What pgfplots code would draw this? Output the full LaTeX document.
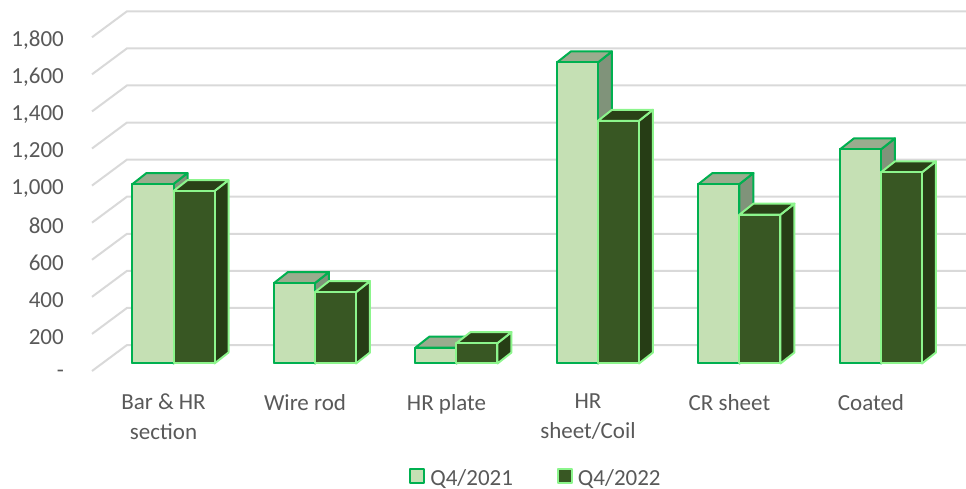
\documentclass[border=0pt]{standalone}
\usepackage{pgfplots}
\usepackage{pgfplotstable}
\usepackage{fontspec}
\setmainfont{Carlito}
\pgfplotsset{compat=1.18}
\definecolor{txt}{HTML}{595959}
\definecolor{gridc}{HTML}{D9D9D9}
\definecolor{lightf}{HTML}{C5E0B4}
\definecolor{lighte}{HTML}{00B050}
\definecolor{lightt}{HTML}{9AAC8E}
\definecolor{lights}{HTML}{80937A}
\definecolor{darkf}{HTML}{385723}
\definecolor{darke}{HTML}{8CF58C}
\definecolor{darkt}{HTML}{2A4117}
\definecolor{darks}{HTML}{263D15}
\pgfplotstableread{
x y
0 968
1 434
2 86
3 1624
4 968
5 1155
}\seriesA
\pgfplotstableread{
x y
0 930
1 385
2 110
3 1309
4 803
5 1031
}\seriesB
\pgfdeclareplotmark{nil}{}
\pgfplotsset{
  cuboid/.style n args={5}{
    scatter, only marks, mark=nil, forget plot,
    xshift=#1, yshift=7.5pt,
    visualization depends on={rawy \as \rawv},
    scatter/@pre marker code/.code={%
      \pgfmathsetmacro\hh{\rawv*0.1854}%
      \pgfmathsetmacro\hb{11-\hh}%
      \pgfmathsetmacro\hc{-\hh}%
      \begin{scope}[line width=2pt, line join=round]
      \filldraw[fill=#2, draw=#4] (0pt,0pt)--(14pt,11pt)--(14pt,\hb pt)--(0pt,\hc pt)--cycle;
      \filldraw[fill=#3, draw=#4] (0pt,0pt)--(-41pt,0pt)--(-27pt,11pt)--(14pt,11pt)--cycle;
      \filldraw[fill=#5, draw=#4] (0pt,0pt)--(-41pt,0pt)--(-41pt,\hc pt)--(0pt,\hc pt)--cycle;
      \end{scope}%
    },
    scatter/@post marker code/.code={},
  },
  frontbar/.style n args={3}{
    ybar, bar width=41pt, bar shift=#1, yshift=7.5pt,
    fill=#2, draw=#3, line width=2pt, line join=round,
    legend image code/.code={\draw[fill=#2, draw=#3, line width=2pt] (0pt,-13pt) rectangle (14pt,1pt); \path (17pt,0pt);},
  },
}
\begin{document}
\begin{tikzpicture}
\path[use as bounding box] (-92pt,-118pt) rectangle (874pt,371pt);
\begin{axis}[
  scale only axis, width=874pt, height=371pt,
  at={(0pt,0pt)}, anchor=south west,
  xmin=-0.576, xmax=5.601, ymin=0, ymax=2001,
  clip=false,
  axis line style={draw=none},
  major tick length=0pt,
  ytick={0,200,400,600,800,1000,1200,1400,1600,1800},
  yticklabels={-,200,400,600,800,{1,000},{1,200},{1,400},{1,600},{1,800}},
  xtick={0,1,2,3,4,5},
  xticklabels={{Bar \& HR\\section},{Wire rod},{HR plate},{HR\\sheet/Coil},{CR sheet},{Coated}},
  tick label style={text=txt},
  yticklabel style={font=\fontsize{23}{26}\selectfont, inner sep=0pt, anchor=east, xshift=-28pt, yshift=-3pt},
  xticklabel style={font=\fontsize{23}{29.5}\selectfont, inner sep=0pt, anchor=north, align=center, xshift=-10pt, yshift=-23pt},
  legend style={at={(0.508,-0.288)}, anchor=center, draw=none, fill=none,
    font=\fontsize{23}{26}\selectfont, text=txt, legend columns=2,
    /tikz/every even column/.append style={column sep=42pt}},
  legend cell align=left,
]
\addplot[forget plot, draw=gridc, line width=2pt, no marks, unbounded coords=jump] table {
x y
-0.576 0
-0.3286 140.2
5.601 140.2
nan nan
-0.576 200
-0.3286 340.2
5.601 340.2
nan nan
-0.576 400
-0.3286 540.2
5.601 540.2
nan nan
-0.576 600
-0.3286 740.2
5.601 740.2
nan nan
-0.576 800
-0.3286 940.2
5.601 940.2
nan nan
-0.576 1000
-0.3286 1140.2
5.601 1140.2
nan nan
-0.576 1200
-0.3286 1340.2
5.601 1340.2
nan nan
-0.576 1400
-0.3286 1540.2
5.601 1540.2
nan nan
-0.576 1600
-0.3286 1740.2
5.601 1740.2
nan nan
-0.576 1800
-0.3286 1940.2
5.601 1940.2
};
\addplot[frontbar={-20.5pt}{lightf}{lighte}] table {\seriesA};
\addlegendentry{Q4/2021}
\addplot[frontbar={20.5pt}{darkf}{darke}] table {\seriesB};
\addlegendentry{Q4/2022}
\addplot[cuboid={0pt}{lights}{lightt}{lighte}{lightf}] table {\seriesA};
\addplot[cuboid={41pt}{darks}{darkt}{darke}{darkf}] table {\seriesB};
\end{axis}
\end{tikzpicture}
\end{document}
